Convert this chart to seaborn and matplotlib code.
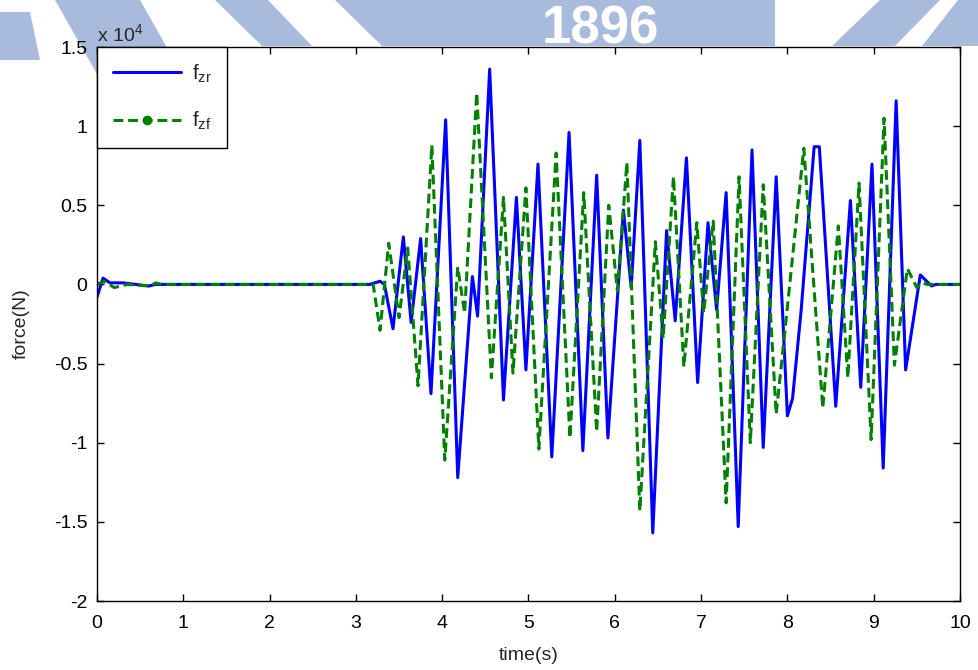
import numpy as np
import pandas as pd
import seaborn as sns
import matplotlib
matplotlib.use("Agg")
import matplotlib.pyplot as plt
from matplotlib.lines import Line2D
from matplotlib.patches import Polygon
from matplotlib.ticker import FuncFormatter

# ---------------- data (force in N) ----------------
t_zr = [0.00, 0.07, 0.15, 0.30, 0.45, 0.60, 0.68, 3.16, 3.28, 3.33, 3.43, 3.55,
        3.64, 3.75, 3.87, 4.04, 4.18, 4.35, 4.41, 4.55, 4.71, 4.86, 4.97, 5.11,
        5.27, 5.47, 5.63, 5.79, 5.92, 6.10, 6.19, 6.29, 6.44, 6.60, 6.70, 6.83,
        6.96, 7.08, 7.18, 7.29, 7.43, 7.59, 7.72, 7.87, 8.00, 8.06, 8.16, 8.31, 8.37,
        8.56, 8.73, 8.85, 8.98, 9.11, 9.26, 9.37, 9.54, 9.67, 9.72, 10.00]
f_zr = [-800, 400, 100, 100, 0, -100, 0, 0, 200, 0, -2800, 3000,
        -2400, 2900, -6900, 10400, -12200, 500, -2000, 13600, -7300, 5500, -5400, 7600,
        -10900, 9600, -10500, 6900, -9700, 4700, -200, 9100, -15700, 3400, -2300, 8000,
        -6200, 3900, -1600, 5800, -15300, 8500, -10300, 6800, -8300, -7200, -1600, 8700, 8700,
        -7700, 5300, -6500, 7600, -11600, 11600, -5400, 600, -100, 0, 0]

t_zf = [0.00, 0.08, 0.20, 0.35, 0.62, 0.68, 0.75, 3.20, 3.28, 3.38, 3.50, 3.60,
        3.72, 3.88, 4.03, 4.18, 4.26, 4.40, 4.57, 4.71, 4.82, 4.97, 5.12, 5.32,
        5.48, 5.64, 5.79, 5.93, 6.03, 6.14, 6.29, 6.47, 6.56, 6.68, 6.80, 6.95,
        7.03, 7.14, 7.29, 7.44, 7.57, 7.72, 7.87, 7.97, 8.19, 8.41, 8.59, 8.70, 8.83,
        8.97, 9.12, 9.24, 9.39, 9.50, 9.56, 9.62, 10.00]
f_zf = [0, 200, -200, 0, -100, 100, 0, 0, -2900, 2600, -2100, 2300,
        -6400, 8800, -11100, 1100, -1800, 12100, -5900, 5500, -5600, 6100, -10400, 8300,
        -9700, 5800, -9300, 5000, -400, 7700, -14300, 2700, -3400, 6800, -5200, 3900,
        -1800, 4000, -13800, 6800, -10000, 6300, -8200, -3000, 8600, -7800, 3700, -5900, 6400,
        -9800, 10500, -5100, 1000, -200, 100, 0, 0]

series_labels = [r"$\mathregular{f_{zr}}$", r"$\mathregular{f_{zf}}$"]
x_ticks = list(range(0, 11))
y_ticks = [-20000, -15000, -10000, -5000, 0, 5000, 10000, 15000]

# ---------------- style ----------------
sns.set_style("ticks")
plt.rcParams["font.family"] = ["Liberation Sans", "DejaVu Sans"]
plt.rcParams["mathtext.fontset"] = "custom"
plt.rcParams["mathtext.rm"] = "Liberation Sans"
plt.rcParams["mathtext.it"] = "Liberation Sans:italic"

W, H = 979, 670
fig = plt.figure(figsize=(W / 100, H / 100), dpi=100)
fig.patch.set_facecolor("white")

def px(x, y):
    return (x / W, 1 - y / H)

# faint watermark behind the axes
wm = "#a9bbdd"
shapes = [
    [(0, 12), (30, 12), (40, 60), (0, 60)],
    [(55, 0), (140, 0), (225, 150), (140, 150)],
    [(215, 0), (268, 0), (312, 46), (262, 46)],
    [(335, 0), (775, 0), (775, 46), (382, 46)],
    [(880, 0), (940, 0), (895, 46), (832, 46)],
    [(958, 0), (979, 0), (979, 46), (922, 46)],
]
for s in shapes:
    fig.patches.append(Polygon([px(*p) for p in s], closed=True, transform=fig.transFigure,
                               facecolor=wm, edgecolor="none", zorder=-5))
fig.text(*px(600, 43), "1896", color="white", fontsize=38, fontweight="bold",
         ha="center", va="baseline", zorder=-4)

ax = fig.add_axes([97 / W, 1 - 601 / H, (960 - 97) / W, (601 - 47) / H])
ax.set_facecolor("white")

sns.lineplot(x=t_zr, y=f_zr, ax=ax, color="#0000ff", linewidth=2.2,
             sort=False, estimator=None)
sns.lineplot(x=t_zf, y=f_zf, ax=ax, color="#008000", linewidth=2.2,
             sort=False, estimator=None)
ax.lines[-1].set_dashes([3.2, 1.6])

ax.set_xlim(0, 10)
ax.set_ylim(-20000, 15000)
ax.set_xticks(x_ticks)
ax.set_yticks(y_ticks)
ax.yaxis.set_major_formatter(FuncFormatter(lambda v, p: f"{v / 1e4:g}"))
ax.tick_params(direction="in", top=True, right=True, length=5, width=1,
               labelsize=14, colors="black")
ax.tick_params(axis="x", pad=10)
ax.tick_params(axis="y", pad=7)
for sp in ax.spines.values():
    sp.set_visible(True)
    sp.set_color("black")
    sp.set_linewidth(1.0)

ax.set_xlabel("time(s)", fontsize=14, labelpad=11)
ax.set_ylabel("force(N)", fontsize=14, labelpad=17)

fig.text(97 / W, 1 - 41 / H, r"x 10$^{4}$", fontsize=14, ha="left", va="baseline")

h1 = Line2D([0], [0], color="#0000ff", linewidth=2.2)
h2 = Line2D([0], [0], color="#008000", linewidth=2.2, linestyle="--",
            marker="o", markersize=6)
h2.set_dashes([3.2, 1.6])
leg = ax.legend([h1, h2], series_labels, loc="upper left", bbox_to_anchor=(0, 1),
                borderaxespad=0, frameon=True, fancybox=False, edgecolor="black",
                framealpha=1, fontsize=15, handlelength=3.3, numpoints=1,
                borderpad=0.75, labelspacing=1.2, handletextpad=0.5)
leg.get_frame().set_linewidth(1.0)

fig.savefig("out.png", dpi=100)
